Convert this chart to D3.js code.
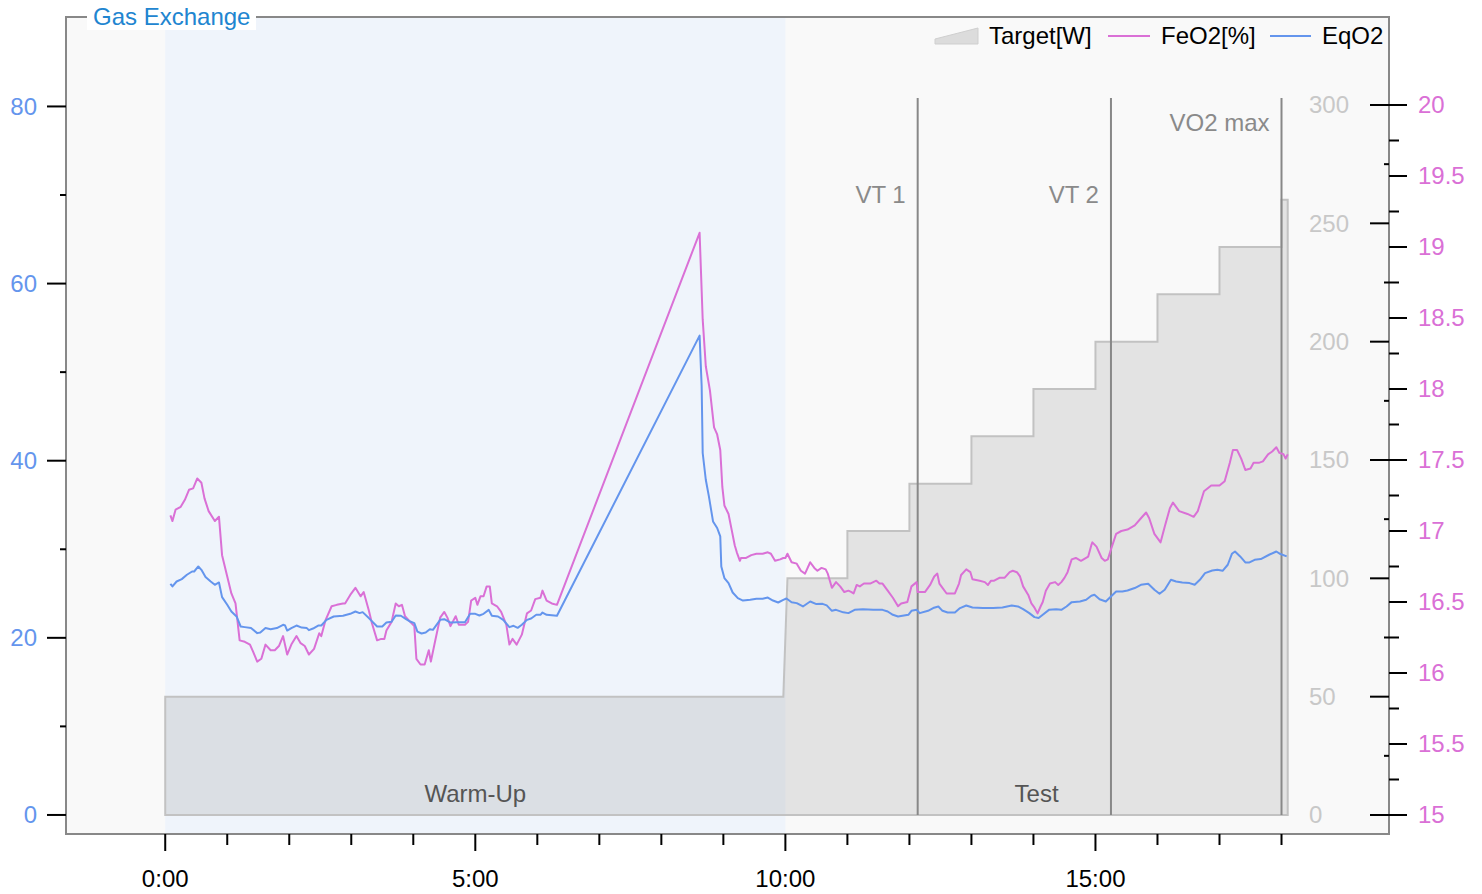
<!DOCTYPE html>
<html><head><meta charset="utf-8">
<script src="https://cdn.jsdelivr.net/npm/d3@7"></script>
<style>
html,body{margin:0;padding:0;background:#fff;}
svg{display:block;font-family:"Liberation Sans",Arial,sans-serif;}
</style></head>
<body><svg id="chart" width="1482" height="894"></svg>
<script>
// ---------- data ----------
const feo2Time = [5,7,10,15,19,23,27,31,35,38,42,48,52,55,60,64,68,72,77,82,85,89,93,97,102,106,110,114,118,122,127,131,135,139,144,149,151,155,161,166,172,174,179,184,189,192,197,200,205,209,212,214,219,223,226,229,232,237,241,243,247,251,255,257,261,266,270,273,276,281,284,290,293,296,300,302,305,308,311,314,316,321,325,330,333,336,340,345,350,354,358,363,365,369,374,379,
517,520,523,527,531,534,537,539,541,545,548,551,553,556,557,562,567,572,578,583,586,590,595,598,600,602,606,611,615,619,624,628,631,635,639,641,645,649,653,657,661,664,666,669,672,676,682,688,691,694,699,704,709,712,718,722,727,728,735,740,744,747,749,752,756,764,768,770,775,779,781,788,793,796,799,802,807,812,817,820,824,827,830,835,838,841,844,847,849,852,856,861,864,867,870,873,877,881,886,893,896,897,901,906,909,912,915,920,925,931,938,944,949,952,957,963,967,972,975,981,989,995,999,1005,1012,1020,1025,1030,1033,1037,1041,1045,1050,1053,1058,1062,1067,1071,1075,1078,1082,1084,1086];
const feo2 = [17.11,17.07,17.15,17.17,17.22,17.29,17.30,17.37,17.34,17.23,17.14,17.07,17.10,16.83,16.68,16.56,16.49,16.23,16.22,16.20,16.15,16.08,16.10,16.20,16.16,16.16,16.19,16.26,16.13,16.20,16.26,16.21,16.19,16.13,16.17,16.28,16.26,16.37,16.47,16.48,16.49,16.49,16.55,16.60,16.54,16.57,16.44,16.35,16.23,16.24,16.24,16.30,16.36,16.49,16.47,16.48,16.40,16.36,16.33,16.10,16.06,16.06,16.16,16.08,16.22,16.39,16.43,16.39,16.33,16.40,16.34,16.34,16.36,16.51,16.53,16.48,16.54,16.54,16.61,16.61,16.49,16.47,16.43,16.34,16.20,16.24,16.20,16.27,16.42,16.44,16.52,16.53,16.58,16.51,16.49,16.48,
19.10,18.49,18.16,17.99,17.73,17.68,17.57,17.31,17.18,17.12,17.01,16.90,16.85,16.79,16.81,16.81,16.83,16.84,16.84,16.85,16.84,16.79,16.80,16.81,16.81,16.84,16.78,16.77,16.72,16.70,16.78,16.74,16.72,16.74,16.73,16.70,16.60,16.64,16.61,16.57,16.58,16.57,16.56,16.62,16.61,16.63,16.63,16.65,16.63,16.63,16.58,16.53,16.47,16.49,16.50,16.61,16.64,16.57,16.57,16.62,16.68,16.70,16.63,16.60,16.56,16.56,16.63,16.69,16.73,16.71,16.66,16.65,16.64,16.62,16.65,16.65,16.67,16.67,16.71,16.72,16.71,16.68,16.61,16.55,16.49,16.46,16.42,16.47,16.50,16.58,16.63,16.64,16.62,16.64,16.67,16.71,16.80,16.81,16.79,16.82,16.90,16.92,16.89,16.81,16.79,16.80,16.87,16.98,17.00,17.01,17.04,17.09,17.13,17.09,16.98,16.92,17.03,17.16,17.20,17.14,17.12,17.10,17.14,17.28,17.32,17.32,17.35,17.48,17.57,17.57,17.51,17.43,17.44,17.48,17.48,17.49,17.54,17.56,17.59,17.55,17.54,17.51,17.54];

const eqo2Time = [5,7,11,16,21,26,28,32,35,39,44,48,52,55,60,64,69,73,77,83,89,92,97,102,108,114,116,118,122,127,132,137,139,143,148,151,156,163,172,179,184,188,191,197,205,210,214,219,223,228,233,237,241,244,248,252,256,259,266,270,276,282,290,295,300,304,308,313,316,322,327,333,337,341,345,350,354,359,363,365,369,379,
517,519,520,523,526,530,534,537,538,541,545,549,554,559,566,572,578,583,588,593,598,601,606,611,617,624,630,636,640,645,649,656,661,667,675,685,694,699,704,709,719,722,727,730,738,743,748,752,757,764,769,775,781,791,801,810,819,825,830,836,841,845,849,855,862,867,872,877,885,891,896,899,904,910,915,920,926,931,938,944,951,957,962,967,973,978,984,991,996,1001,1006,1013,1018,1023,1028,1032,1035,1040,1045,1049,1054,1060,1068,1075,1079,1085];
const eqo2 = [26.10,25.80,26.36,26.63,27.12,27.49,27.49,28.06,27.68,26.86,26.36,25.99,26.25,24.60,23.73,22.97,22.41,21.28,21.21,21.10,20.53,20.60,21.10,20.98,21.10,21.47,21.39,20.82,21.10,21.39,21.16,21.10,20.87,21.05,21.39,21.39,22.03,22.41,22.49,22.71,22.97,22.79,22.90,22.23,21.28,21.28,21.73,21.81,22.52,22.49,22.11,21.84,21.66,20.71,20.49,20.60,20.98,20.90,22.03,22.11,21.73,21.77,21.77,22.71,22.71,22.52,22.71,23.16,22.49,22.41,22.03,21.21,21.36,21.13,21.47,22.03,22.18,22.60,22.60,22.86,22.60,22.49,
54.12,48.40,40.87,37.85,35.97,33.14,32.40,31.45,28.06,26.75,26.18,25.12,24.49,24.21,24.29,24.41,24.41,24.55,24.21,23.99,24.29,24.44,24.01,23.92,23.54,24.10,23.81,23.84,23.67,23.05,23.16,22.88,22.79,23.16,23.24,23.16,23.16,22.97,22.60,22.41,22.60,23.05,23.16,22.79,23.05,23.36,23.54,23.05,22.86,22.86,23.36,23.65,23.42,23.36,23.36,23.42,23.65,23.54,23.24,22.79,22.34,22.23,22.60,23.16,23.24,23.16,23.54,24.03,24.10,24.29,24.75,24.86,24.35,24.10,24.67,25.23,25.23,25.34,25.62,25.99,26.10,25.42,24.97,25.42,26.55,26.36,26.25,26.18,25.99,26.55,27.31,27.60,27.68,27.57,28.25,29.49,29.75,29.19,28.51,28.51,28.81,28.89,29.38,29.75,29.46,29.19];

const targetTime = [0,598,602,660,660,720,720,780,780,840,840,900,900,960,960,1020,1020,1080,1080,1086];
const targetW    = [50,50,100,100,120,120,140,140,160,160,180,180,200,200,220,220,240,240,260,260];

const markerNames = ["VT 1","VT 2","VO2 max"];
const markerTimes = [728,915,1080];
const markerRows  = [1,1,0];

const phaseNames  = ["Warm-Up","Test"];
const phaseStarts = [0,600];
const phaseEnds   = [600,1086];

const leftTicks  = [0,20,40,60,80];
const wattTicks  = [0,50,100,150,200,250,300];
const feTicks    = [15,15.5,16,16.5,17,17.5,18,18.5,19,19.5,20];
const timeTicks  = [0,300,600,900];

const legendNames = ["Target[W]","FeO2[%]","EqO2"];

// ---------- layout ----------
const svg = d3.select("#chart");
const L = 66, R = 1389, T = 17, B = 834;
const x  = d3.scaleLinear().domain([-96,1184]).range([L,R]);
const yL = d3.scaleLinear().domain([-2.15,90.1]).range([B,T]);
const yW = d3.scaleLinear().domain([0,300]).range([815,105]);
const yF = d3.scaleLinear().domain([15,20]).range([815,105]);
const pink = "#DA70D6", blue = "#6495ED";
const FS = 24;

// background
svg.append("rect").attr("x",L).attr("y",T).attr("width",R-L).attr("height",B-T).attr("fill","#f9f9f9");
// warm-up band
svg.append("rect").attr("x",x(phaseStarts[0])).attr("y",T)
  .attr("width",x(phaseEnds[0])-x(phaseStarts[0])).attr("height",B-T).attr("fill","#eff4fb");

// target area
const tgt = targetTime.map((t,i)=>({t, w:targetW[i]}));
const area = d3.area().x(d=>x(d.t)).y0(yW(0)).y1(d=>yW(d.w));
svg.append("path").datum(tgt).attr("d",area)
  .attr("fill","rgba(140,140,140,0.2)").attr("stroke","#c2c2c2").attr("stroke-width",2);

// markers
markerNames.forEach((n,i)=>{
  const xm = x(markerTimes[i]);
  svg.append("line").attr("x1",xm).attr("x2",xm).attr("y1",98).attr("y2",yW(0))
    .attr("stroke","#888").attr("stroke-width",2);
  svg.append("text").attr("x",xm-12).attr("y",markerRows[i]===0?131:203)
    .attr("text-anchor","end").attr("font-size",FS).attr("fill","#8a8a8a").text(n);
});

// phase labels
phaseNames.forEach((n,i)=>{
  svg.append("text").attr("x",(x(phaseStarts[i])+x(phaseEnds[i]))/2).attr("y",802)
    .attr("text-anchor","middle").attr("font-size",FS).attr("fill","#555").text(n);
});

// lines
const feData = feo2Time.map((t,i)=>({t,v:feo2[i]}));
const eqData = eqo2Time.map((t,i)=>({t,v:eqo2[i]}));
svg.append("path").datum(feData).attr("d",d3.line().x(d=>x(d.t)).y(d=>yF(d.v)))
  .attr("fill","none").attr("stroke",pink).attr("stroke-width",2).attr("stroke-linejoin","round");
svg.append("path").datum(eqData).attr("d",d3.line().x(d=>x(d.t)).y(d=>yL(d.v)))
  .attr("fill","none").attr("stroke",blue).attr("stroke-width",2).attr("stroke-linejoin","round");

// frame
svg.append("rect").attr("x",L).attr("y",T).attr("width",R-L).attr("height",B-T)
  .attr("fill","none").attr("stroke","#888").attr("stroke-width",2);

// left axis
const gl = svg.append("g");
d3.range(0,81,10).forEach(v=>{
  const major = v%20===0;
  gl.append("line").attr("x1",major?47:60).attr("x2",L).attr("y1",yL(v)).attr("y2",yL(v))
    .attr("stroke","#000").attr("stroke-width",2);
});
leftTicks.forEach(v=>{
  gl.append("text").attr("x",37).attr("y",yL(v)).attr("dy","0.35em").attr("text-anchor","end")
    .attr("font-size",FS).attr("fill",blue).text(v);
});

// watts axis (inside right edge)
d3.range(0,301,25).forEach(v=>{
  const major = v%50===0;
  svg.append("line").attr("x1",major?1370:1384).attr("x2",R).attr("y1",yW(v)).attr("y2",yW(v))
    .attr("stroke","#000").attr("stroke-width",2);
});
wattTicks.forEach(v=>{
  svg.append("text").attr("x",1309).attr("y",yW(v)).attr("dy","0.35em").attr("text-anchor","start")
    .attr("font-size",FS).attr("fill","#c8c8c8").text(v);
});

// FeO2 axis
d3.range(0,21).forEach(k=>{
  const v = 15+k*0.25;
  const major = k%2===0;
  svg.append("line").attr("x1",R).attr("x2",major?1407:1399).attr("y1",yF(v)).attr("y2",yF(v))
    .attr("stroke","#000").attr("stroke-width",2);
});
feTicks.forEach(v=>{
  svg.append("text").attr("x",1418).attr("y",yF(v)).attr("dy","0.35em").attr("text-anchor","start")
    .attr("font-size",FS).attr("fill",pink).text(v);
});

// x axis
const fmt = s => Math.floor(s/60)+":"+String(s%60).padStart(2,"0");
d3.range(0,1081,60).forEach(t=>{
  const major = t%300===0;
  svg.append("line").attr("x1",x(t)).attr("x2",x(t)).attr("y1",B).attr("y2",major?851:845)
    .attr("stroke","#000").attr("stroke-width",2);
});
timeTicks.forEach(t=>{
  svg.append("text").attr("x",x(t)).attr("y",887).attr("text-anchor","middle")
    .attr("font-size",FS).attr("fill","#000").text(fmt(t));
});

// title
svg.append("rect").attr("x",87).attr("y",3).attr("width",169).attr("height",27).attr("fill","#fff");
svg.append("text").attr("x",93).attr("y",25).attr("font-size",FS).attr("fill","#2185d0").text("Gas Exchange");

// legend
const lg = svg.append("g");
lg.append("path").attr("d","M935,44 L935,39 L978,28 L978,44 Z").attr("fill","#dcdcdc").attr("stroke","#cfcfcf").attr("stroke-width",1);
lg.append("text").attr("x",989).attr("y",44).attr("font-size",FS).attr("fill","#000").text(legendNames[0]);
lg.append("line").attr("x1",1108).attr("x2",1150).attr("y1",36).attr("y2",36).attr("stroke",pink).attr("stroke-width",2);
lg.append("text").attr("x",1161).attr("y",44).attr("font-size",FS).attr("fill","#000").text(legendNames[1]);
lg.append("line").attr("x1",1270).attr("x2",1311).attr("y1",36).attr("y2",36).attr("stroke",blue).attr("stroke-width",2);
lg.append("text").attr("x",1322).attr("y",44).attr("font-size",FS).attr("fill","#000").text(legendNames[2]);
</script></body></html>
